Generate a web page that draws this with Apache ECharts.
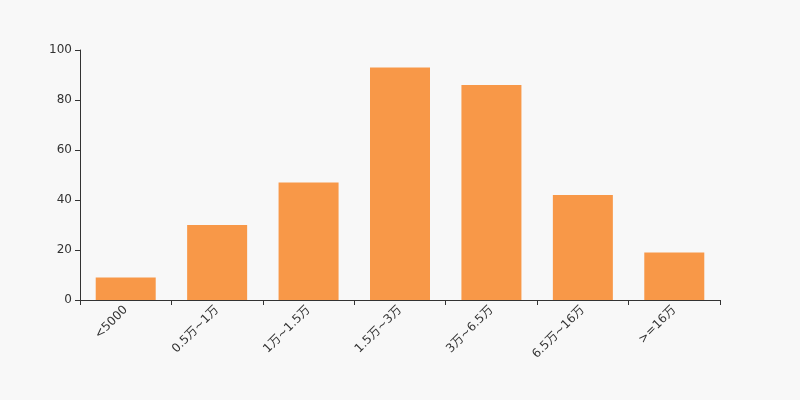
<!DOCTYPE html>
<html><head><meta charset="utf-8">
<script src="https://cdn.jsdelivr.net/npm/echarts@6/dist/echarts.min.js"></script>
<style>html,body{margin:0;padding:0;background:#f8f8f8}#c{width:800px;height:400px}</style>
</head><body><div id="c"></div>
<script>
const categories = ['<5000', '0.5万~1万', '1万~1.5万', '1.5万~3万', '3万~6.5万', '6.5万~16万', '>=16万'];
const values = [9, 30, 47, 93, 86, 42, 19];
const yTicks = {min: 0, max: 100, interval: 20};

const FONT = "'DejaVu Sans', 'Noto Sans CJK SC', sans-serif";
const chart = echarts.init(document.getElementById('c'), null, {renderer: 'canvas'});
chart.setOption({
  backgroundColor: '#f8f8f8',
  animation: false,
  textStyle: {fontFamily: FONT},
  grid: {left: 80, right: 80, top: 50, bottom: 100},
  xAxis: {
    type: 'category', data: categories,
    axisLine: {lineStyle: {color: '#333'}},
    axisTick: {show: true, alignWithLabel: false, lineStyle: {color: '#333'}},
    axisLabel: {rotate: 45, color: '#333', fontSize: 12, interval: 0, fontFamily: FONT}
  },
  yAxis: {
    type: 'value', min: yTicks.min, max: yTicks.max, interval: yTicks.interval,
    axisLine: {show: true, lineStyle: {color: '#333'}},
    axisTick: {show: true, lineStyle: {color: '#333'}},
    axisLabel: {color: '#333', fontSize: 12, fontFamily: FONT},
    splitLine: {show: false}
  },
  series: [{
    type: 'bar', data: values, barWidth: 60,
    itemStyle: {color: '#f89848'}
  }]
});
</script></body></html>
